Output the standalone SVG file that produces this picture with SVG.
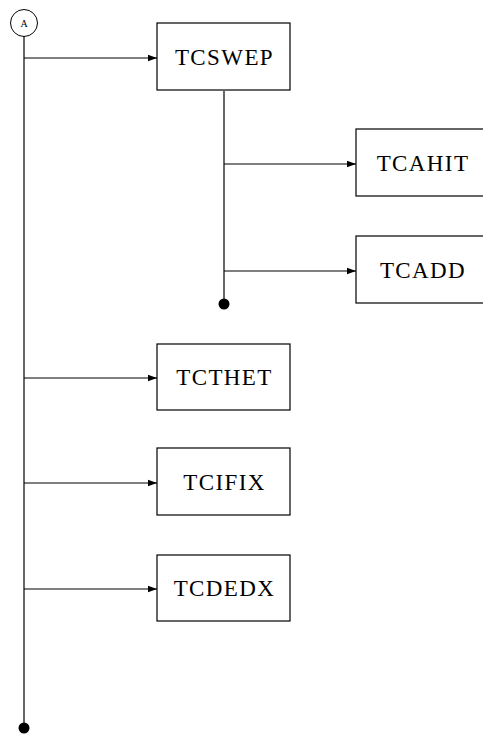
<svg xmlns="http://www.w3.org/2000/svg" width="483" height="735" viewBox="0 0 483 735">
<style>
.box{fill:#fff;stroke:#000;stroke-width:1.2}
.lbl{font-family:"Liberation Serif","Times New Roman",serif;font-size:23px;letter-spacing:1.4px;fill:#000;text-anchor:middle;dominant-baseline:central}
.ln{stroke:#000;stroke-width:1.2;fill:none}
</style>
<defs>
<marker id="arr" markerWidth="10" markerHeight="8" refX="9" refY="4" orient="auto" markerUnits="userSpaceOnUse">
<path d="M0,0.8 L9,4 L0,7.2 Z" fill="#000"/>
</marker>
</defs>
<g id="start">
<circle cx="24" cy="23" r="13.5" fill="#fff" stroke="#000" stroke-width="1"/>
<text x="24" y="23.5" font-family="Liberation Serif,serif" font-size="10" text-anchor="middle" dominant-baseline="central">A</text>
</g>
<g id="connectors">
<line class="ln" x1="24" y1="36.5" x2="24" y2="728"/>
<circle cx="24" cy="728" r="5.5" fill="#000"/>
<line class="ln" x1="24" y1="58" x2="157" y2="58" marker-end="url(#arr)"/>
<line class="ln" x1="24" y1="378" x2="157" y2="378" marker-end="url(#arr)"/>
<line class="ln" x1="24" y1="483" x2="157" y2="483" marker-end="url(#arr)"/>
<line class="ln" x1="24" y1="589" x2="157" y2="589" marker-end="url(#arr)"/>
<line class="ln" x1="224" y1="91" x2="224" y2="304"/>
<circle cx="224" cy="304" r="5.5" fill="#000"/>
<line class="ln" x1="224" y1="164" x2="356" y2="164" marker-end="url(#arr)"/>
<line class="ln" x1="224" y1="271" x2="356" y2="271" marker-end="url(#arr)"/>
</g>
<g id="TCSWEP"><rect class="box" x="157" y="23" width="133" height="67"/><text class="lbl" x="224.5" y="57">TCSWEP</text></g>
<g id="TCAHIT"><rect class="box" x="356" y="129" width="133" height="67"/><text class="lbl" x="423" y="163">TCAHIT</text></g>
<g id="TCADD"><rect class="box" x="356" y="236" width="133" height="67"/><text class="lbl" x="423" y="270">TCADD</text></g>
<g id="TCTHET"><rect class="box" x="157" y="344" width="133" height="66"/><text class="lbl" x="224.5" y="377">TCTHET</text></g>
<g id="TCIFIX"><rect class="box" x="157" y="448" width="133" height="67"/><text class="lbl" x="224.5" y="482">TCIFIX</text></g>
<g id="TCDEDX"><rect class="box" x="157" y="555" width="133" height="66"/><text class="lbl" x="224.5" y="588">TCDEDX</text></g>
</svg>
